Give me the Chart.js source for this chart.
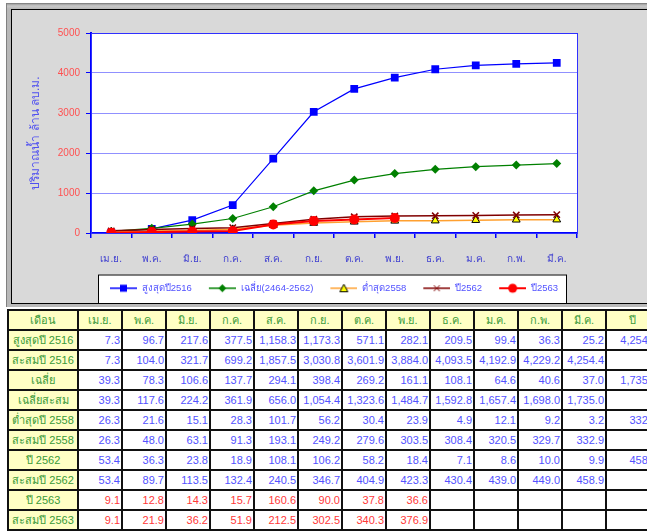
<!DOCTYPE html>
<html>
<head>
<meta charset="utf-8">
<script src="https://cdn.jsdelivr.net/npm/chart.js@4/dist/chart.umd.min.js"></script>
<style>
body{margin:0;width:647px;height:532px;overflow:hidden;background:#fff;position:relative;font-family:"Liberation Sans",Tahoma,sans-serif}
#bevel{position:absolute;left:6px;top:3px;width:700px;height:304px;background:linear-gradient(#6a6a6a 0,#a0a0a0 1px,#c8c8c8 3px,#b8b8b8 6px);border-left:1px solid #808080}
#frame{position:absolute;left:11px;top:9px;width:700px;height:293px;background:#d9d9d9;border:1px solid #000;border-right:none}
#box{position:absolute;left:12px;top:10px;width:635px;height:293px}
table{position:absolute;left:7px;top:309px;border-collapse:collapse;table-layout:fixed;width:651px;font-size:11px}
td{border:2px solid #111;height:16px;padding:0 1px;text-align:right;color:#5252ff;background:#fff;white-space:nowrap;overflow:hidden}
td.h{background:#ffffc4;color:#3a9a3a;text-align:center}
tr.red td{color:#ff3838}
tr.red td.h{color:#3a9a3a}
tr.top td{height:18px}
</style>
</head>
<body>
<div id="bevel"></div>
<div id="frame"></div>
<div id="box"><canvas id="waterChart"></canvas></div>
<table id="tbl"></table>
<script>
let months=["เม.ย.","พ.ค.","มิ.ย.","ก.ค.","ส.ค.","ก.ย.","ต.ค.","พ.ย.","ธ.ค.","ม.ค.","ก.พ.","มี.ค."]
let yTicks=[0,1000,2000,3000,4000,5000]

// monthly values (table)
let max2516=[7.3,96.7,217.6,377.5,1158.3,1173.3,571.1,282.1,209.5,99.4,36.3,25.2]
let avgMonth=[39.3,78.3,106.6,137.7,294.1,398.4,269.2,161.1,108.1,64.6,40.6,37.0]
let min2558=[26.3,21.6,15.1,28.3,101.7,56.2,30.4,23.9,4.9,12.1,9.2,3.2]
let y2562=[53.4,36.3,23.8,18.9,108.1,106.2,58.2,18.4,7.1,8.6,10.0,9.9]
let y2563=[9.1,12.8,14.3,15.7,160.6,90.0,37.8,36.6]

// cumulative values (chart + table)
let cum2516=[7.3,104.0,321.7,699.2,1857.5,3030.8,3601.9,3884.0,4093.5,4192.9,4229.2,4254.4]
let cumAvg=[39.3,117.6,224.2,361.9,656.0,1054.4,1323.6,1484.7,1592.8,1657.4,1698.0,1735.0]
let cum2558=[26.3,48.0,63.1,91.3,193.1,249.2,279.6,303.5,308.4,320.5,329.7,332.9]
let cum2562=[53.4,89.7,113.5,132.4,240.5,346.7,404.9,423.3,430.4,439.0,449.0,458.9]
let cum2563=[9.1,21.9,36.2,51.9,212.5,302.5,340.3,376.9]

let yearTotals=[4254.4,1735.0,332.9,458.9,null]

let seriesNames=["สูงสุดปี2516","เฉลี่ย(2464-2562)","ต่ำสุด2558","ปี2562","ปี2563"]
let rowLabels=["สูงสุดปี 2516","สะสมปี 2516","เฉลี่ย","เฉลี่ยสะสม","ต่ำสุดปี 2558","สะสมปี 2558","ปี 2562","สะสมปี 2562","ปี 2563","สะสมปี 2563"]

const FONT='"Liberation Sans",Tahoma,sans-serif'
Chart.defaults.font.family=FONT
Chart.defaults.font.size=10

/* legend icons: line with marker */
const M=9
function icon(color,lw,marker,fill,stroke){
let c=document.createElement("canvas")
c.width=M+27;c.height=12
let x=c.getContext("2d")
x.strokeStyle=color;x.lineWidth=lw
x.beginPath();x.moveTo(M,6);x.lineTo(M+27,6);x.stroke()
let cx=M+13.5,cy=6
x.fillStyle=fill;x.strokeStyle=stroke;x.lineWidth=1
x.beginPath()
if(marker=="rect"){x.rect(cx-3.5,cy-3.5,7,7);x.fill()}
if(marker=="diamond"){x.moveTo(cx,cy-4);x.lineTo(cx+4,cy);x.lineTo(cx,cy+4);x.lineTo(cx-4,cy);x.closePath();x.fill()}
if(marker=="tri"){x.moveTo(cx,cy-4);x.lineTo(cx+4,cy+3.5);x.lineTo(cx-4,cy+3.5);x.closePath();x.fill();x.stroke()}
if(marker=="cross"){x.moveTo(cx-3,cy-3);x.lineTo(cx+3,cy+3);x.moveTo(cx+3,cy-3);x.lineTo(cx-3,cy+3);x.stroke()}
if(marker=="circle"){x.arc(cx,cy,4.5,0,Math.PI*2);x.fill()}
return c
}

let icons=[
icon("#0000ff",1.5,"rect","#0000ff","#0000ff"),
icon("#008000",1.5,"diamond","#008000","#008000"),
icon("#ffa030",1.5,"tri","#ffff00","#000"),
icon("#800000",1.5,"cross","#800000","#800000"),
icon("#ff0000",2,"circle","#ff0000","#ff0000")
]

function legendBox(chart){
let lg=chart.legend,hb=lg.legendHitBoxes
if(!hb||!hb.length) return null
let l=Math.round(hb[0].left-3),r=Math.round(hb[hb.length-1].left+hb[hb.length-1].width+8)
return {l:l,r:r,t:lg.top-1,b:lg.bottom+4}
}

const framePlugin={
id:"framePlugin",
beforeDraw(chart){
let ctx=chart.ctx,a=chart.chartArea
ctx.save()
ctx.fillStyle="#fff"
ctx.fillRect(a.left,a.top,a.right-a.left,a.bottom-a.top)
let b=legendBox(chart)
if(b) ctx.fillRect(b.l,b.t,b.r-b.l,b.b-b.t)
ctx.restore()
},
afterDraw(chart){
let ctx=chart.ctx,a=chart.chartArea
ctx.save()
ctx.strokeStyle="#3030ff";ctx.lineWidth=1
ctx.strokeRect(a.left+0.5,a.top+0.5,a.right-a.left,a.bottom-a.top)
let b=legendBox(chart)
if(b){ctx.strokeStyle="#000";ctx.strokeRect(b.l+0.5,b.t+0.5,b.r-b.l,b.b-b.t)}
ctx.restore()
}
}

new Chart(document.getElementById("waterChart"),{
type:"line",
data:{
labels:months,
datasets:[
{label:seriesNames[0],data:cum2516,borderColor:"#0000ff",backgroundColor:"#0000ff",borderWidth:1.2,pointStyle:"rect",pointRadius:5.5,pointBorderWidth:0,order:4},
{label:seriesNames[1],data:cumAvg,borderColor:"#008000",backgroundColor:"#008000",borderWidth:1.2,pointStyle:"rectRot",pointRadius:4.5,pointBorderWidth:0,order:3},
{label:seriesNames[2],data:cum2558,borderColor:"#ffa030",backgroundColor:"#ffff00",pointBorderColor:"#000",borderWidth:1.5,pointStyle:"triangle",pointRadius:4.5,pointBorderWidth:1,order:2},
{label:seriesNames[3],data:cum2562,borderColor:"#800000",backgroundColor:"#800000",borderWidth:1.5,pointStyle:"crossRot",pointRadius:4.5,pointBorderWidth:1.5,order:1},
{label:seriesNames[4],data:cum2563,borderColor:"#ff0000",backgroundColor:"#ff0000",borderWidth:2,pointStyle:"circle",pointRadius:5,pointBorderWidth:0,order:0}
]
},
options:{
responsive:true,
maintainAspectRatio:false,
animation:false,
layout:{padding:{top:23,right:0,left:0,bottom:0}},
plugins:{
tooltip:{enabled:false},
legend:{
position:"bottom",
labels:{
usePointStyle:true,
pointStyleWidth:M+27,
boxHeight:10,
padding:8,
color:"#5252ff",
font:{size:9.5},
generateLabels(chart){
return chart.data.datasets.map((d,i)=>({text:d.label,pointStyle:icons[i],datasetIndex:i,fontColor:"#5252ff",lineWidth:0,strokeStyle:"transparent",fillStyle:"transparent"}))
}
}
}
},
scales:{
x:{
offset:true,
grid:{offset:true,drawOnChartArea:false,tickLength:5,tickColor:"#0000ff",lineWidth:1.5},
border:{color:"#0000ff",width:2},
ticks:{color:"#4040d0",padding:15,font:{size:10},maxRotation:0,autoSkip:false},
afterFit(a){a.height=a.chart.height-a.chart.legend.height-223}
},
y:{
min:0,max:5000,
afterBuildTicks(a){a.ticks=yTicks.map(v=>({value:v}))},
grid:{color:"#9090ff",tickColor:"#0000ff",tickLength:5,lineWidth:1},
border:{color:"#0000ff",width:2},
ticks:{color:"#ff5050",padding:6,font:{size:10},callback:v=>String(v)},
title:{display:true,text:"ปริมาณน้ำ ล้าน ลบ.ม.",color:"#5050f0",font:{size:12},padding:{top:16,bottom:0}},
afterFit(a){a.width=79}
},
// empty right-hand space beside the plot
yRight:{
position:"right",
grid:{display:false},
ticks:{display:false},
border:{display:false},
afterFit(a){a.width=70}
}
}
},
plugins:[framePlugin]
})

/* table */
function fmt(v){
if(v==null) return ""
return v.toLocaleString("en-US",{minimumFractionDigits:1,maximumFractionDigits:1})
}
let rows=[max2516,cum2516,avgMonth,cumAvg,min2558,cum2558,y2562,cum2562,y2563,cum2563]
let tbl=document.getElementById("tbl")
let html='<colgroup><col style="width:70px">'
for(let i=0;i<12;i++) html+='<col style="width:44px">'
html+='<col style="width:53px"></colgroup>'
html+='<tr class="top"><td class="h">เดือน</td>'
months.forEach(m=>html+='<td class="h">'+m+'</td>')
html+='<td class="h">ปี</td></tr>'
rows.forEach((r,i)=>{
html+='<tr'+(i>=8?' class="red"':'')+'><td class="h">'+rowLabels[i]+'</td>'
for(let j=0;j<12;j++) html+='<td>'+fmt(r[j])+'</td>'
html+='<td>'+(i%2==0?fmt(yearTotals[i/2]):"")+'</td></tr>'
})
tbl.innerHTML=html
</script>
</body>
</html>
